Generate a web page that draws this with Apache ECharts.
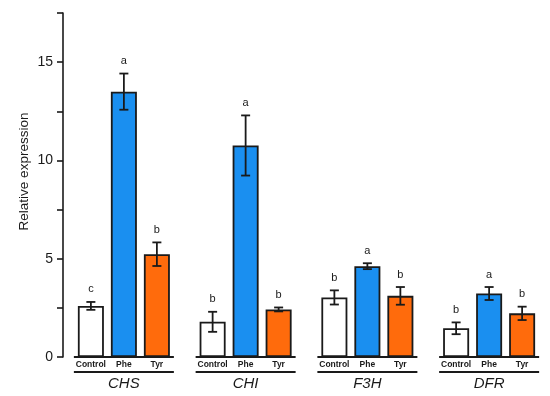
<!DOCTYPE html>
<html>
<head>
<meta charset="utf-8">
<script src="https://cdn.jsdelivr.net/npm/echarts@6/dist/echarts.min.js"></script>
<style>html,body{margin:0;padding:0;background:#fff}#c{width:550px;height:396px}</style>
</head>
<body>
<div id="c"></div>
<script>
const genes = ['CHS', 'CHI', 'F3H', 'DFR'];
const treatments = ['Control', 'Phe', 'Tyr'];
const controlMean = [2.6, 1.79, 3.03, 1.46];
const controlErr = [0.2, 0.51, 0.36, 0.3];
const controlLetters = ['c', 'b', 'b', 'b'];
const pheMean = [13.5, 10.76, 4.62, 3.23];
const pheErr = [0.92, 1.53, 0.15, 0.33];
const pheLetters = ['a', 'a', 'a', 'a'];
const tyrMean = [5.23, 2.42, 3.11, 2.22];
const tyrErr = [0.6, 0.1, 0.45, 0.34];
const tyrLetters = ['b', 'b', 'b', 'b'];
const yTicks = [0, 5, 10, 15];
const yLabel = 'Relative expression';

const FONT = "'Liberation Sans', Arial, sans-serif";
const BAR_W = 26;
const STEP = 33;
const INK = '#1a1a1a';
const colors = ['#ffffff', '#1a8ff0', '#ff6b0c'];
const means = [controlMean, pheMean, tyrMean];
const errs = [controlErr, pheErr, tyrErr];
const letters = [controlLetters, pheLetters, tyrLetters];

const chart = echarts.init(document.getElementById('c'), null, {renderer: 'canvas'});

const barSeries = treatments.map((t, k) => ({
  name: t,
  type: 'bar',
  data: means[k],
  barWidth: BAR_W,
  barGap: ((STEP - BAR_W) / BAR_W * 100) + '%',
  itemStyle: {color: colors[k], borderColor: INK, borderWidth: 1.8},
  label: {
    show: true, position: 'bottom', distance: 3.5,
    formatter: () => t, fontSize: 8.5, fontWeight: 'bold', fontFamily: FONT, color: INK
  },
  emphasis: {disabled: true},
  z: 2
}));

const errSeries = treatments.map((t, k) => ({
  type: 'custom',
  data: genes.map((g, i) => [i, means[k][i], errs[k][i]]),
  z: 5,
  silent: true,
  renderItem: function (params, api) {
    const ci = api.value(0), m = api.value(1), e = api.value(2);
    const x = api.coord([ci, m])[0] + (k - 1) * STEP;
    const yt = api.coord([ci, m + e])[1];
    const yb = api.coord([ci, m - e])[1];
    const ls = {stroke: INK, lineWidth: 1.8};
    return {
      type: 'group',
      children: [
        {type: 'line', shape: {x1: x, y1: yt, x2: x, y2: yb}, style: ls},
        {type: 'line', shape: {x1: x - 4.5, y1: yt, x2: x + 4.5, y2: yt}, style: ls},
        {type: 'line', shape: {x1: x - 4.5, y1: yb, x2: x + 4.5, y2: yb}, style: ls},
        {type: 'text', style: {
          text: letters[k][params.dataIndex], x: x, y: yt - 7,
          align: 'center', verticalAlign: 'bottom',
          font: '11px ' + FONT, fill: INK
        }}
      ]
    };
  }
}));

const groupLines = {
  type: 'custom',
  data: genes.map((g, i) => [i, 0]),
  z: 6,
  silent: true,
  renderItem: function (params, api) {
    const p = api.coord([api.value(0), 0]);
    const half = 3 * STEP / 2 + 0.5;
    const ls = {stroke: INK, lineWidth: 1.8};
    return {
      type: 'group',
      children: [
        {type: 'line', shape: {x1: p[0] - half, y1: p[1], x2: p[0] + half, y2: p[1]}, style: ls},
        {type: 'line', shape: {x1: p[0] - half, y1: p[1] + 15, x2: p[0] + half, y2: p[1] + 15}, style: ls}
      ]
    };
  }
};

chart.setOption({
  animation: false,
  backgroundColor: '#fff',
  grid: {left: 63, top: 13, width: 490, bottom: 39, containLabel: false},
  xAxis: {
    type: 'category',
    data: genes,
    axisLine: {show: false},
    axisTick: {show: false},
    axisLabel: {fontSize: 15, fontStyle: 'italic', fontFamily: FONT, color: INK, margin: 19}
  },
  yAxis: {
    type: 'value',
    min: 0, max: 17.5, interval: 2.5,
    splitLine: {show: false},
    axisLine: {show: true, lineStyle: {color: INK, width: 1.6}},
    axisTick: {show: true, length: 6, lineStyle: {color: INK, width: 1.6}},
    axisLabel: {
      fontSize: 14, fontFamily: FONT, color: INK, margin: 10,
      formatter: v => yTicks.indexOf(v) >= 0 ? String(v) : ''
    }
  },
  graphic: [{
    type: 'text',
    x: 24.5, y: 171.5,
    rotation: Math.PI / 2,
    style: {text: yLabel, align: 'center', verticalAlign: 'middle', font: '13.5px ' + FONT, fill: INK}
  }],
  series: [...barSeries, ...errSeries, groupLines]
});
</script>
</body>
</html>
